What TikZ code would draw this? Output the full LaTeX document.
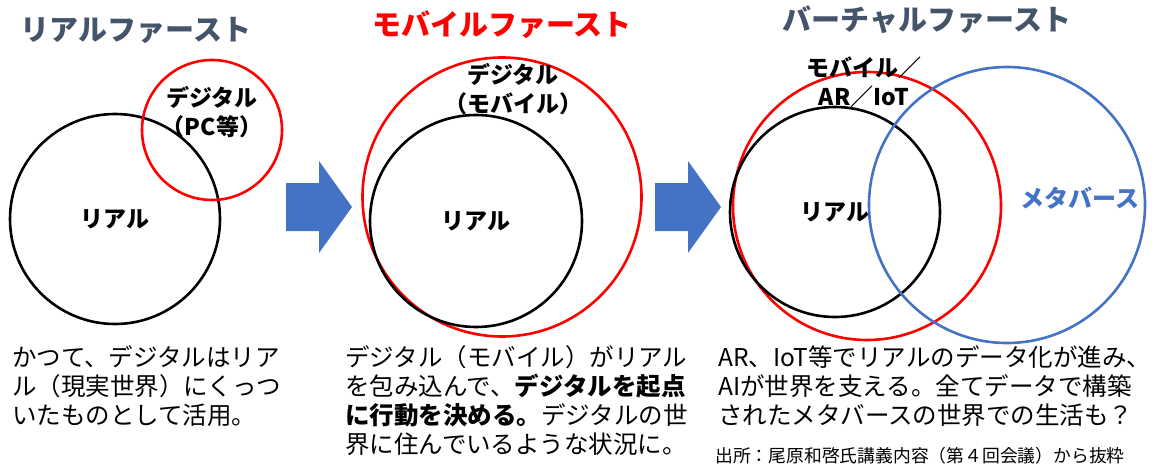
\documentclass[tikz,border=0pt]{standalone}
\usepackage{fontspec}
\setmainfont{Noto Sans CJK JP}
\usepackage{xcolor}
\usetikzlibrary{positioning}
\definecolor{slate}{HTML}{44546A}
\definecolor{arrowblue}{HTML}{4472C4}

\begin{document}
\begin{tikzpicture}[x=1pt, y=-1pt,
    title/.style={font=\bfseries\fontsize{29}{34}\selectfont},
    ring/.style={circle, draw, line width=2.6pt, inner sep=0pt, minimum size=#1},
    lbl/.style={font=\bfseries\fontsize{23}{29}\selectfont, align=center, inner sep=0pt},
    body/.style={font=\fontsize{24.5}{29}\selectfont, align=left, anchor=north west, inner sep=0pt}]

    \useasboundingbox (0,0) rectangle (1156,468);

    % real first
    \node[title, text=slate] (t1) at (136,30) {リアルファースト};
    \node[ring=210pt, lbl]   (real1) at (115,219) {リアル};
    \node[ring=140pt, red]   (digi1) at (212,130) {};
    \node[lbl]               (d1) at (212,112) {デジタル\\（PC等）};

    % block arrows
    \foreach \x in {286,655}
        \fill[arrowblue] (\x,183) -- ++(33,0) -- ++(0,-22) -- ++(33,46)
            -- ++(-33,46) -- ++(0,-22) -- ++(-33,0) -- cycle;

    % mobile first
    \node[title, text=red]   (t2) at (502,25) {モバイルファースト};
    \node[ring=279pt, red]   (digi2) at (502,197) {};
    \node[ring=212pt, lbl]   (real2) at (476,221) {リアル};
    \node[lbl]               (d2) at (513,89) {デジタル\\（モバイル）};

    % virtual first
    \node[title, text=slate] (t3) at (927,20) {バーチャルファースト};
    \node[ring=268pt, red]   (digi3) at (867,206) {};
    \node[ring=210pt, lbl]   (real3) at (835,212) {リアル};
    \node[ring=276pt, draw=arrowblue] (meta) at (1007,205) {};
    \node[lbl]               (d3) at (864,82) {モバイル／\\AR／IoT};
    \node[lbl, text=arrowblue, font=\bfseries\fontsize{24}{29}\selectfont] (m3) at (1080,198) {メタバース};

    % captions
    \node[body] (txt1) at (12,345) {かつて、デジタルはリア\\ル（現実世界）にくっつ\\いたものとして活用。};
    \node[body] (txt2) at (345,345) {デジタル（モバイル）がリアル\\を包み込んで、\textbf{デジタルを起点}\\\textbf{に行動を決める。}デジタルの世\\界に住んでいるような状況に。};
    \node[body] (txt3) at (718,345) {AR、IoT等でリアルのデータ化が進み、\\AIが世界を支える。全てデータで構築\\されたメタバースの世界での生活も？};
    \node[font=\fontsize{17.8}{20}\selectfont, anchor=west, inner sep=0pt] (src) at (715,456) {出所：尾原和啓氏講義内容（第４回会議）から抜粋};

\end{tikzpicture}
\end{document}
